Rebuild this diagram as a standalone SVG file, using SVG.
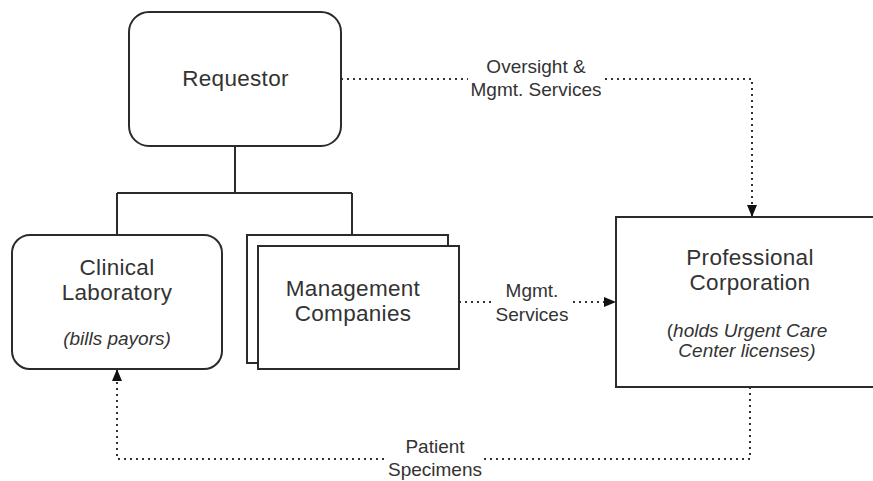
<svg xmlns="http://www.w3.org/2000/svg" width="873" height="481" viewBox="0 0 873 481">
  <style>
    .box { fill: #ffffff; stroke: #2b2b2b; stroke-width: 2; }
    .tree { fill: none; stroke: #2b2b2b; stroke-width: 2; }
    .flow { fill: none; stroke: #333333; stroke-width: 2; stroke-dasharray: 2 4; }
    .title { font-family: "Liberation Sans", Arial, sans-serif; font-size: 22.5px; letter-spacing: 0.3px; fill: #333333; text-anchor: middle; }
    .note { font-family: "Liberation Sans", Arial, sans-serif; font-size: 19px; font-style: italic; fill: #333333; text-anchor: middle; }
    .label { font-family: "Liberation Sans", Arial, sans-serif; font-size: 19px; fill: #333333; text-anchor: middle; }
    .gap { fill: #ffffff; }
  </style>
  <defs>
    <marker id="arrow" viewBox="0 0 12 10" refX="12" refY="5" markerWidth="12" markerHeight="10" markerUnits="userSpaceOnUse" orient="auto">
      <path d="M0,0 L12,5 L0,10 Z" fill="#111111"/>
    </marker>
  </defs>

  <rect width="873" height="481" fill="#ffffff"/>

  <!-- connectors -->
  <g id="connectors">
    <!-- ownership tree -->
    <path class="tree" d="M235,146 V193 M117,193 H352 M117,193 V235 M352,193 V235"/>
    <!-- oversight & management services -->
    <path class="flow" d="M341,79 H752 V217" marker-end="url(#arrow)"/>
    <!-- management services -->
    <path class="flow" d="M459,302 H616" marker-end="url(#arrow)"/>
    <!-- patient specimens -->
    <path class="flow" d="M750,387 V459 H117 V369" marker-end="url(#arrow)"/>

    <!-- label backgrounds -->
    <rect class="gap" x="468" y="70" width="136" height="18"/>
    <rect class="gap" x="491" y="293" width="78" height="18"/>
    <rect class="gap" x="386" y="450" width="98" height="18"/>

    <text class="label" x="536" y="73">Oversight &amp;</text>
    <text class="label" x="536" y="96">Mgmt. Services</text>
    <text class="label" x="532" y="297">Mgmt.</text>
    <text class="label" x="532" y="321">Services</text>
    <text class="label" x="435" y="453">Patient</text>
    <text class="label" x="435" y="476">Specimens</text>
  </g>

  <g id="requestor">
    <rect class="box" x="129" y="12" width="212" height="134" rx="20" ry="20"/>
    <text class="title" x="235.5" y="86">Requestor</text>
  </g>

  <g id="clinical-laboratory">
    <rect class="box" x="12" y="235" width="210" height="134" rx="18" ry="18"/>
    <text class="title" x="117" y="275">Clinical</text>
    <text class="title" x="117" y="300">Laboratory</text>
    <text class="note" x="117" y="345">(bills payors)</text>
  </g>

  <g id="management-companies">
    <rect class="box" x="247" y="235" width="201" height="128"/>
    <rect class="box" x="258" y="246" width="201" height="123"/>
    <text class="title" x="353" y="296">Management</text>
    <text class="title" x="353" y="321">Companies</text>
  </g>

  <g id="professional-corporation">
    <rect class="box" x="616" y="217" width="270" height="170"/>
    <text class="title" x="750" y="265">Professional</text>
    <text class="title" x="750" y="290">Corporation</text>
    <text class="note" x="747" y="337"><tspan font-style="normal">(</tspan>holds Urgent Care</text>
    <text class="note" x="747" y="357">Center licenses)</text>
  </g>
</svg>
